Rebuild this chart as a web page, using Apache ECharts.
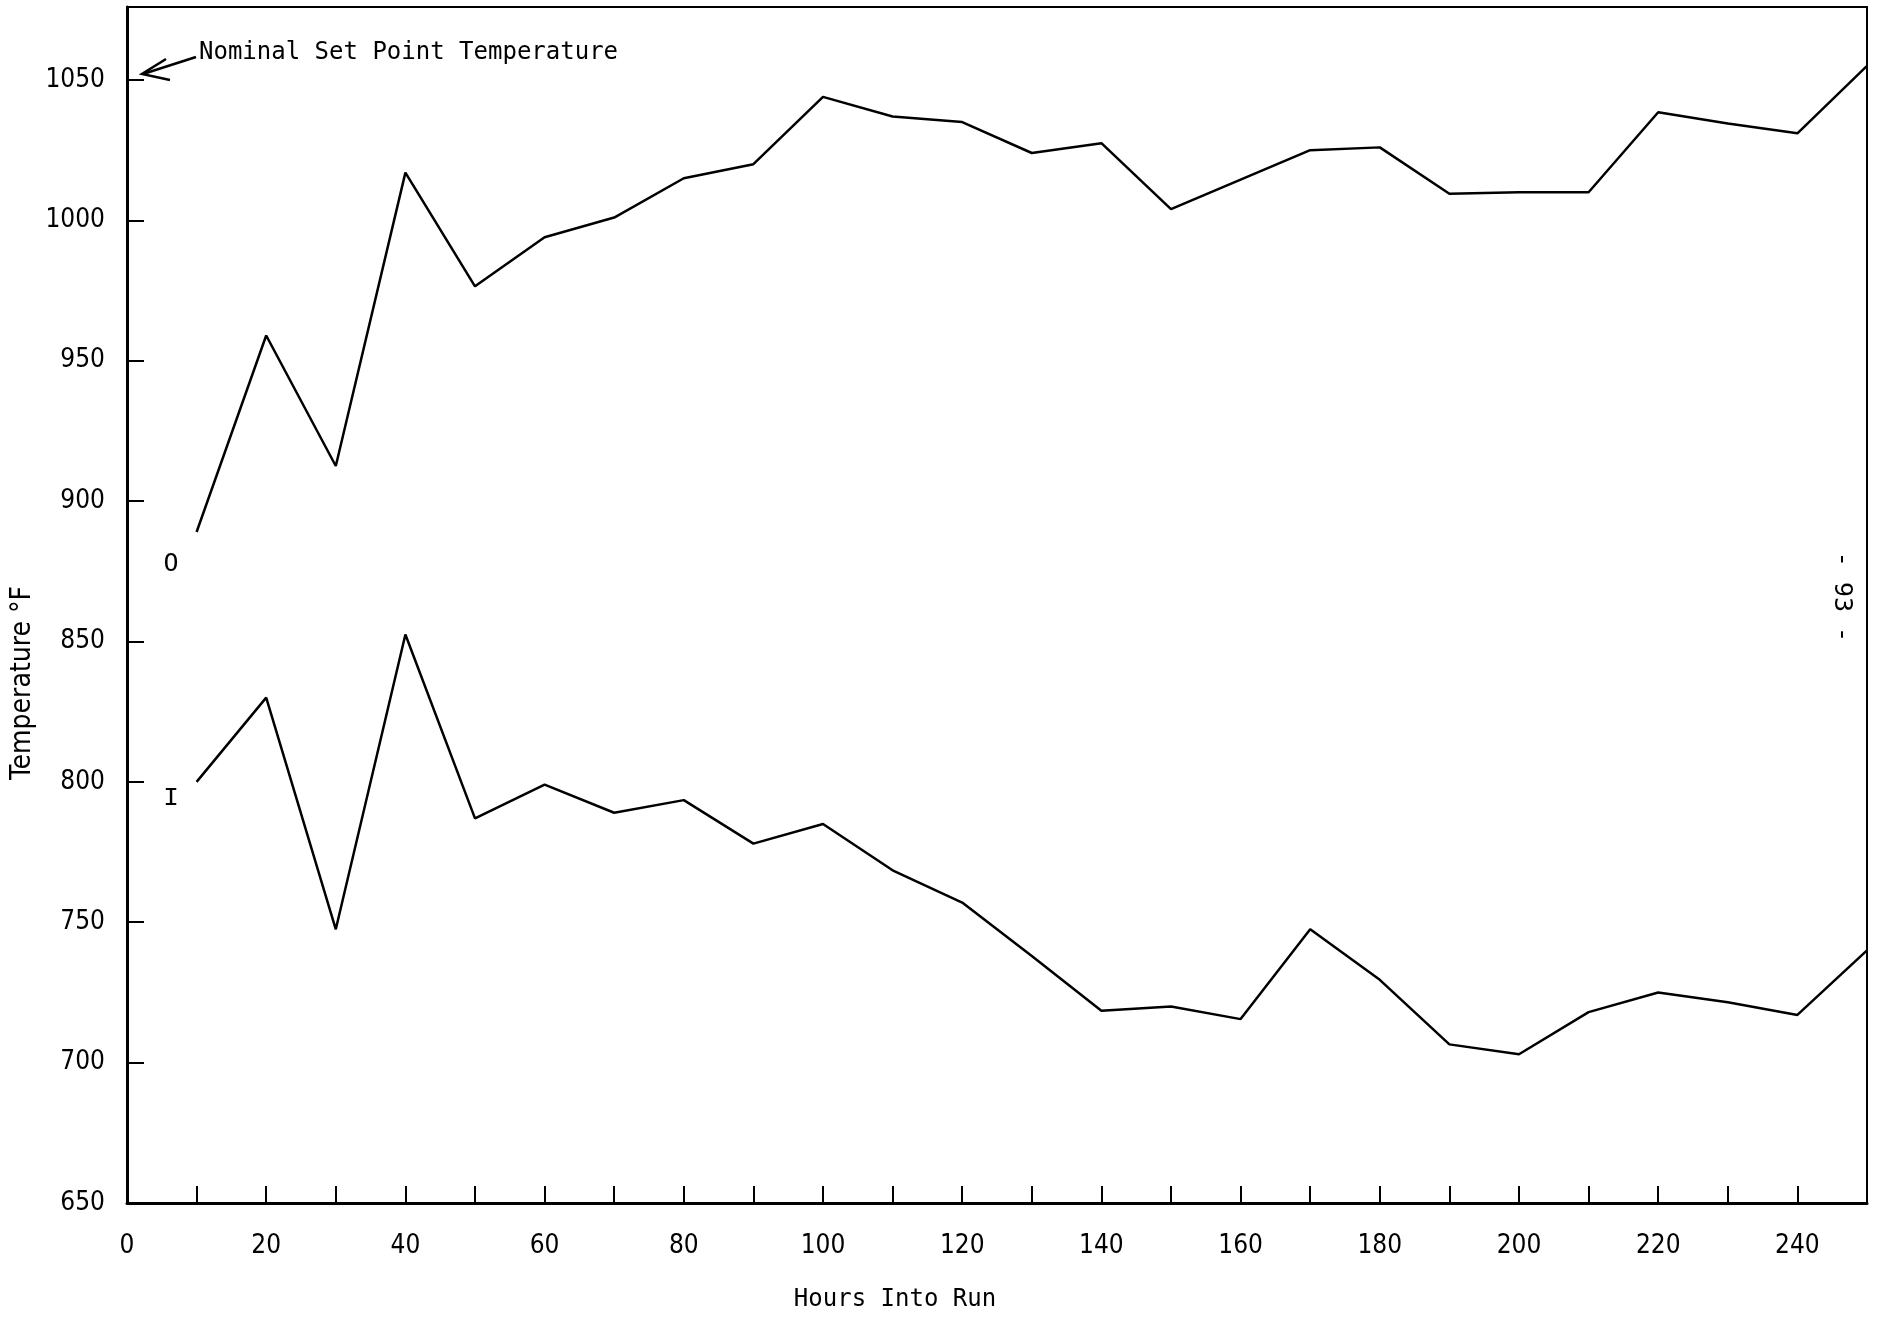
<!DOCTYPE html>
<html><head><meta charset="utf-8">
<script src="https://cdn.jsdelivr.net/npm/echarts@6/dist/echarts.min.js"></script>
<style>html,body{margin:0;padding:0;background:#fff}#c{width:1879px;height:1319px}</style>
</head><body><div id="c"></div>
<script>
// Hours into run
const hours = [10,20,30,40,50,60,70,80,90,100,110,120,130,140,150,160,170,180,190,200,210,220,230,240,250];
// Outlet (O) temperature, °F
const outletTemp = [889,959,912.5,1017,976.5,994,1001,1015,1020,1044,1037,1035,1024,1027.5,1004,1014.5,1025,1026,1009.5,1010,1010,1038.5,1034.5,1031,1055];
// Inlet (I) temperature, °F
const inletTemp = [800,830,747.5,852.5,787,799,789,793.5,778,785,768.5,757,738,718.5,720,715.5,747.5,729.5,706.5,703,718,725,721.5,717,740];
const yTicks = [650,700,750,800,850,900,950,1000,1050];
const xLabelEvery = 20;

const mono = '"DejaVu Sans Mono","Liberation Mono",monospace';
const cond = '"Liberation Sans Narrow","DejaVu Sans Condensed","DejaVu Sans",sans-serif';

const chart = echarts.init(document.getElementById('c'));
const pair = (xs, ys) => xs.map((x, i) => [x, ys[i]]);
chart.setOption({
  animation: false,
  backgroundColor: '#fff',
  grid: {left: 127, right: 12, top: 7, bottom: 116, show: true, borderColor: '#000', borderWidth: 2},
  xAxis: {
    type: 'value', min: 0, max: 250, interval: 10,
    axisLine: {show: true, onZero: false, lineStyle: {color: '#000', width: 3}},
    axisTick: {show: true, inside: true, length: 17, lineStyle: {color: '#000', width: 2}},
    splitLine: {show: false},
    axisLabel: {
      color: '#000', fontFamily: cond, fontSize: 26, margin: 30,
      formatter: v => (v % xLabelEvery === 0 && v < 250) ? String(v) : ''
    }
  },
  yAxis: {
    type: 'value', min: 650, max: 1076, interval: 50,
    axisLine: {show: true, onZero: false, lineStyle: {color: '#000', width: 3}},
    axisTick: {show: true, inside: true, length: 17, lineStyle: {color: '#000', width: 2}},
    splitLine: {show: false},
    axisLabel: {
      color: '#000', fontFamily: cond, fontSize: 26, margin: 22, showMaxLabel: false,
      formatter: v => yTicks.includes(v) ? String(v) : ''
    }
  },
  series: [
    {type: 'line', name: 'O', data: pair(hours, outletTemp), symbol: 'none',
     lineStyle: {color: '#000', width: 2.5}},
    {type: 'line', name: 'I', data: pair(hours, inletTemp), symbol: 'none',
     lineStyle: {color: '#000', width: 2.5}}
  ],
  graphic: [
    {type: 'text', left: 199, top: 41, style: {text: 'Nominal Set Point Temperature', fontFamily: mono, fontSize: 24, fill: '#000'}},
    {type: 'polyline', shape: {points: [[196, 57], [143, 74]]}, style: {stroke: '#000', lineWidth: 2.5, fill: null}},
    {type: 'polyline', shape: {points: [[166, 59], [142, 74], [170, 80]]}, style: {stroke: '#000', lineWidth: 2.5, fill: null}},
    {type: 'text', x: 171, y: 564, style: {text: 'O', fontFamily: mono, fontSize: 25, fill: '#000', align: 'center', verticalAlign: 'middle'}},
    {type: 'text', x: 171, y: 798, style: {text: 'I', fontFamily: '"Liberation Mono",monospace', fontSize: 26, fill: '#000', align: 'center', verticalAlign: 'middle'}},
    {type: 'text', x: 895, y: 1300, style: {text: 'Hours Into Run', fontFamily: mono, fontSize: 24, fill: '#000', align: 'center', verticalAlign: 'middle'}},
    {type: 'text', x: 23, y: 683, rotation: Math.PI / 2, style: {text: 'Temperature °F', fontFamily: cond, fontSize: 28, fill: '#000', align: 'center', verticalAlign: 'middle'}},
    {type: 'text', x: 1841, y: 597, rotation: -Math.PI / 2, style: {text: '- 93 -', fontFamily: mono, fontSize: 25, fill: '#000', align: 'center', verticalAlign: 'middle'}}
  ]
});
</script></body></html>
